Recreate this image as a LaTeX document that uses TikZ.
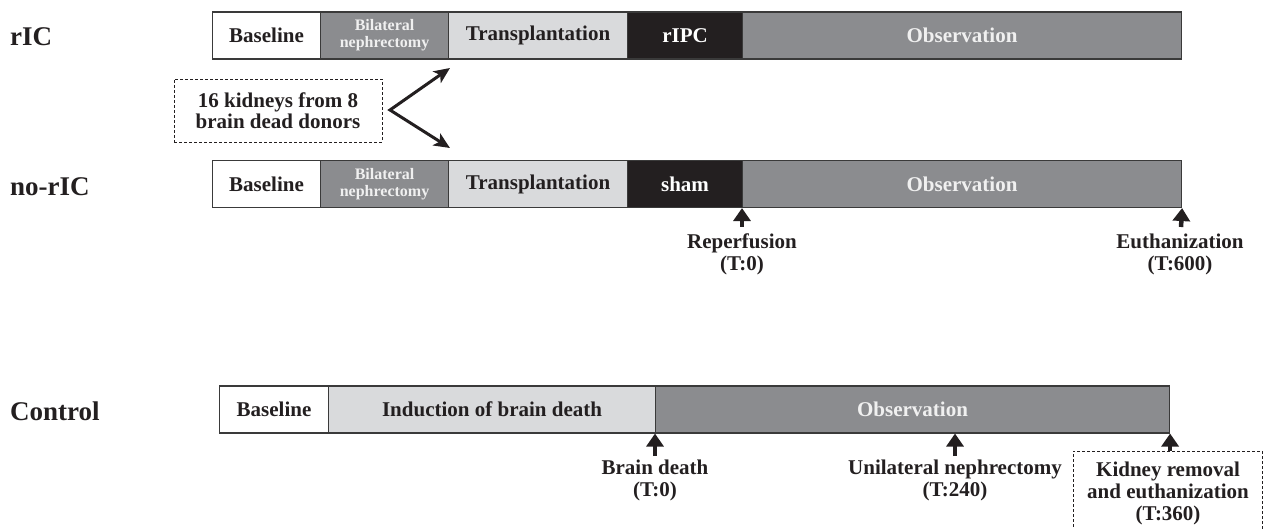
\documentclass[tikz,border=0pt]{standalone}
\usepackage{fontspec}
\setmainfont{Liberation Serif}
\usetikzlibrary{arrows.meta}
\definecolor{ink}{HTML}{231F20}
\definecolor{midgray}{HTML}{8B8C8F}
\definecolor{lightgray}{HTML}{D9DADC}
\definecolor{edge}{HTML}{3A3A3A}
\begin{document}
\begin{tikzpicture}[x=1pt,y=-1pt,
  seg/.style={draw=edge, line width=1.1pt, anchor=west, minimum height=47pt, inner sep=0pt,
     font=\fontsize{21}{22}\selectfont\bfseries, text=ink, align=center},
  segw/.style={seg, fill=white},
  segm/.style={seg, fill=midgray, text=white!94!black},
  segl/.style={seg, fill=lightgray},
  segk/.style={seg, fill=ink, text=white},
  small/.style={font=\fontsize{16}{17}\selectfont\bfseries},
  grouplab/.style={anchor=west, inner sep=0pt, text=ink, font=\fontsize{27}{30}\selectfont\bfseries},
  lab/.style={inner sep=0pt, text=ink, align=center, font=\fontsize{21}{22}\selectfont\bfseries},
  dashbox/.style={draw=ink, line width=0.9pt, dash pattern=on 3pt off 2pt, inner sep=0pt},
  uparrow/.style={draw=ink, line width=4.5pt, -{Triangle[width=17pt,length=13pt]}},
  splitarrow/.style={draw=ink, line width=3pt, line join=miter, {Stealth[length=16pt,width=14pt,inset=4pt]}-{Stealth[length=16pt,width=14pt,inset=4pt]}}
]
\useasboundingbox (0,0) rectangle (1265,529);
\clip (0,0) rectangle (1265,529);

% group labels
\node[grouplab] (gr) at (10,37) {rIC};
\node[grouplab] (gn) at (10,187) {no-rIC};
\node[grouplab] (gc) at (10,411) {Control};

% rIC bar
\node[segw, minimum width=108pt] (a1) at (212,35.5) {Baseline};
\node[segm, minimum width=128pt, small] (a2) at (320,35.5) {Bilateral\\nephrectomy};
\node[segl, minimum width=179pt] (a3) at (448,35.5) {Transplantation};
\node[segk, minimum width=115pt] (a4) at (627,35.5) {rIPC};
\node[segm, minimum width=439pt] (a5) at (742,35.5) {Observation};

% no-rIC bar
\node[segw, minimum width=108pt] (b1) at (212,184) {Baseline};
\node[segm, minimum width=128pt, small] (b2) at (320,184) {Bilateral\\nephrectomy};
\node[segl, minimum width=179pt] (b3) at (448,184) {Transplantation};
\node[segk, minimum width=115pt] (b4) at (627,184) {sham};
\node[segm, minimum width=439pt] (b5) at (742,184) {Observation};

% Control bar
\node[segw, minimum width=109pt] (c1) at (219,409.5) {Baseline};
\node[segl, minimum width=327pt] (c2) at (328,409.5) {Induction of brain death};
\node[segm, minimum width=514pt] (c3) at (655,409.5) {Observation};

% donor box and split arrows
\node[dashbox, minimum width=208pt, minimum height=63pt, align=center,
      font=\fontsize{21}{21}\selectfont\bfseries, text=ink] (donor) at (278,110.5)
      {16 kidneys from 8\\brain dead donors};
\coordinate (v) at (390,110);
\coordinate (t1) at (450,68);
\coordinate (t2) at (450,148);
\draw[splitarrow] (t1) -- (v) -- (t2);

% no-rIC time points
\coordinate (r0) at (742,227);
\draw[uparrow] (r0) -- (b5.south west);
\node[lab] (rl) at (742,254) {Reperfusion\\(T:0)};
\coordinate (e0) at (1181,227);
\draw[uparrow] (e0) -- (b5.south east);
\node[lab] (el) at (1180,254) {Euthanization\\(T:600)};

% Control time points
\coordinate (d0) at (655,456);
\draw[uparrow] (d0) -- (c3.south west);
\node[lab] (dl) at (655,480) {Brain death\\(T:0)};
\coordinate (u0) at (955,456);
\draw[uparrow] (u0) -- (u0 |- c3.south);
\node[lab] (ul) at (955,480) {Unilateral nephrectomy\\(T:240)};
\node[dashbox, minimum width=189pt, minimum height=84pt] (kbox) at (1167.5,493) {};
\node[lab] (kl) at (1168,493) {Kidney removal\\and euthanization\\(T:360)};
\draw[uparrow] (kbox.north -| c3.south east) -- (c3.south east);
\end{tikzpicture}
\end{document}
